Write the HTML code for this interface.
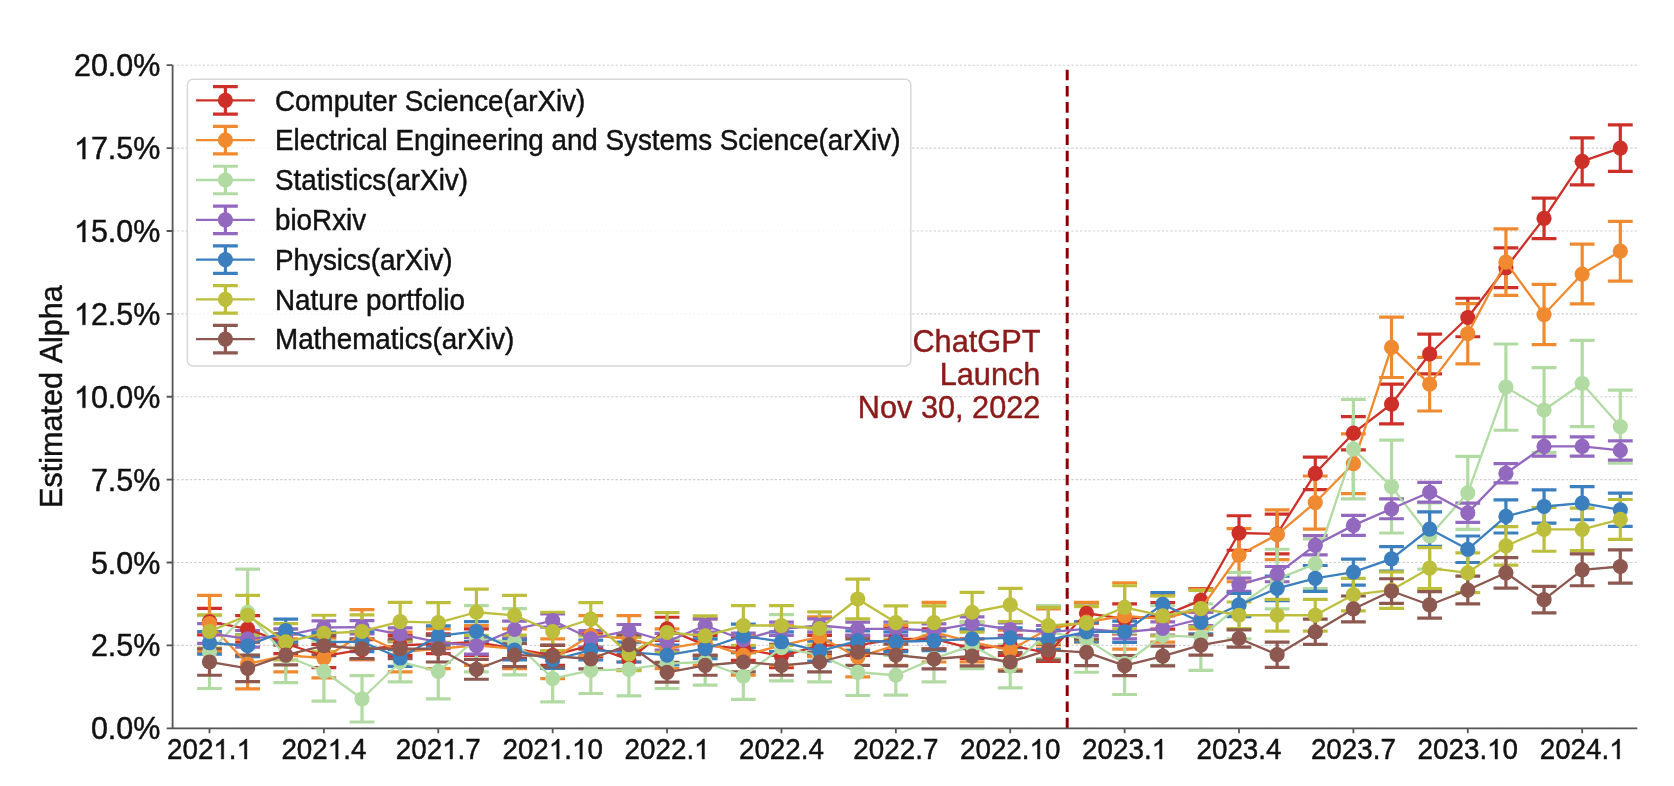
<!DOCTYPE html><html><head><meta charset="utf-8"><style>html,body{margin:0;padding:0;background:#fff;}svg{display:block;filter:blur(0.4px);}text{font-family:"Liberation Sans",sans-serif;font-kerning:none;}.t text,.t path{stroke-width:0.45px;paint-order:stroke;}.t path{vector-effect:non-scaling-stroke;}</style></head><body>
<svg width="1674" height="786" viewBox="0 0 1674 786">
<rect width="1674" height="786" fill="#fff"/>
<path d="M172.6 728.3H1637.3M172.6 645.41H1637.3M172.6 562.52H1637.3M172.6 479.64H1637.3M172.6 396.75H1637.3M172.6 313.86H1637.3M172.6 230.98H1637.3M172.6 148.09H1637.3M172.6 65.2H1637.3" stroke="#cfcfcf" stroke-width="1.1" stroke-dasharray="2.4 1.9" fill="none"/>
<path d="M209.5 608.28V634.8M197.1 608.28H221.9M197.1 634.8H221.9M247.63 615.57V642.09M235.23 615.57H260.03M235.23 642.09H260.03M285.76 633.81V653.7M273.36 633.81H298.16M273.36 653.7H298.16M323.89 644.42V667.62M311.49 644.42H336.29M311.49 667.62H336.29M362.02 639.77V659.67M349.62 639.77H374.42M349.62 659.67H374.42M400.15 635.46V655.36M387.75 635.46H412.55M387.75 655.36H412.55M438.28 633.81V653.7M425.88 633.81H450.68M425.88 653.7H450.68M476.41 628.83V655.36M464.01 628.83H488.81M464.01 655.36H488.81M514.54 638.78V658.67M502.14 638.78H526.94M502.14 658.67H526.94M552.67 645.41V665.3M540.27 645.41H565.07M540.27 665.3H565.07M590.8 633.81V657.01M578.4 633.81H603.2M578.4 657.01H603.2M628.93 650.05V669.95M616.53 650.05H641.33M616.53 669.95H641.33M667.06 617.23V640.44M654.66 617.23H679.46M654.66 640.44H679.46M705.19 635.46V655.36M692.79 635.46H717.59M692.79 655.36H717.59M743.32 637.12V660.33M730.92 637.12H755.72M730.92 660.33H755.72M781.45 644.42V667.62M769.05 644.42H793.85M769.05 667.62H793.85M819.58 635.46V655.36M807.18 635.46H831.98M807.18 655.36H831.98M857.71 635.46V655.36M845.31 635.46H870.11M845.31 655.36H870.11M895.84 627.17V650.38M883.44 627.17H908.24M883.44 650.38H908.24M933.97 628.83V648.73M921.57 628.83H946.37M921.57 648.73H946.37M972.1 638.78V658.67M959.7 638.78H984.5M959.7 658.67H984.5M1010.23 635.46V655.36M997.83 635.46H1022.63M997.83 655.36H1022.63M1048.36 644.75V661.32M1035.96 644.75H1060.76M1035.96 661.32H1060.76M1086.49 603.3V623.2M1074.09 603.3H1098.89M1074.09 623.2H1098.89M1124.62 603.96V633.81M1112.22 603.96H1137.02M1112.22 633.81H1137.02M1162.75 602.64V629.16M1150.35 602.64H1175.15M1150.35 629.16H1175.15M1200.88 588.71V611.92M1188.48 588.71H1213.28M1188.48 611.92H1213.28M1239.01 515.77V550.25M1226.61 515.77H1251.41M1226.61 550.25H1251.41M1277.14 514.11V553.9M1264.74 514.11H1289.54M1264.74 553.9H1289.54M1315.27 457.08V489.58M1302.87 457.08H1327.67M1302.87 489.58H1327.67M1353.4 416.63V449.79M1341 416.63H1365.8M1341 449.79H1365.8M1391.53 384.14V423.93M1379.13 384.14H1403.93M1379.13 423.93H1403.93M1429.66 334.08V373.86M1417.26 334.08H1442.06M1417.26 373.86H1442.06M1467.79 298.27V336.73M1455.39 298.27H1480.19M1455.39 336.73H1480.19M1505.92 247.87V287.66M1493.52 247.87H1518.32M1493.52 287.66H1518.32M1544.05 198.14V238.59M1531.65 198.14H1556.45M1531.65 238.59H1556.45M1582.18 137.79V184.87M1569.78 137.79H1594.58M1569.78 184.87H1594.58M1620.31 124.86V171.28M1607.91 124.86H1632.71M1607.91 171.28H1632.71" stroke="#cd3029" stroke-width="3.2" fill="none"/>
<path d="M209.5 595.34V651.71M197.1 595.34H221.9M197.1 651.71H221.9M247.63 639.11V688.84M235.23 639.11H260.03M235.23 688.84H260.03M285.76 638.78V671.93M273.36 638.78H298.16M273.36 671.93H298.16M323.89 638.12V677.9M311.49 638.12H336.29M311.49 677.9H336.29M362.02 609.6V659.34M349.62 609.6H374.42M349.62 659.34H374.42M400.15 632.15V671.93M387.75 632.15H412.55M387.75 671.93H412.55M438.28 628.83V668.62M425.88 628.83H450.68M425.88 668.62H450.68M476.41 625.52V665.3M464.01 625.52H488.81M464.01 665.3H488.81M514.54 628.83V668.62M502.14 628.83H526.94M502.14 668.62H526.94M552.67 638.78V678.57M540.27 638.78H565.07M540.27 678.57H565.07M590.8 615.57V655.36M578.4 615.57H603.2M578.4 655.36H603.2M628.93 615.57V661.99M616.53 615.57H641.33M616.53 661.99H641.33M667.06 628.83V668.62M654.66 628.83H679.46M654.66 668.62H679.46M705.19 618.89V665.3M692.79 618.89H717.59M692.79 665.3H717.59M743.32 635.46V675.25M730.92 635.46H755.72M730.92 675.25H755.72M781.45 625.52V665.3M769.05 625.52H793.85M769.05 665.3H793.85M819.58 616.9V656.68M807.18 616.9H831.98M807.18 656.68H831.98M857.71 637.12V676.91M845.31 637.12H870.11M845.31 676.91H870.11M895.84 625.52V665.3M883.44 625.52H908.24M883.44 665.3H908.24M933.97 602.31V661.99M921.57 602.31H946.37M921.57 661.99H946.37M972.1 622.2V661.99M959.7 622.2H984.5M959.7 661.99H984.5M1010.23 630.16V669.95M997.83 630.16H1022.63M997.83 669.95H1022.63M1048.36 608.94V648.73M1035.96 608.94H1060.76M1035.96 648.73H1060.76M1086.49 602.31V642.09M1074.09 602.31H1098.89M1074.09 642.09H1098.89M1124.62 582.75V649.06M1112.22 582.75H1137.02M1112.22 649.06H1137.02M1162.75 595.68V642.09M1150.35 595.68H1175.15M1150.35 642.09H1175.15M1200.88 589.04V628.83M1188.48 589.04H1213.28M1188.48 628.83H1213.28M1239.01 528.7V581.75M1226.61 528.7H1251.41M1226.61 581.75H1251.41M1277.14 509.8V559.54M1264.74 509.8H1289.54M1264.74 559.54H1289.54M1315.27 475.98V529.03M1302.87 475.98H1327.67M1302.87 529.03H1327.67M1353.4 433.87V493.56M1341 433.87H1365.8M1341 493.56H1365.8M1391.53 317.17V377.51M1379.13 317.17H1403.93M1379.13 377.51H1403.93M1429.66 357.28V411M1417.26 357.28H1442.06M1417.26 411H1442.06M1467.79 303.57V363.92M1455.39 303.57H1480.19M1455.39 363.92H1480.19M1505.92 228.97V295.28M1493.52 228.97H1518.32M1493.52 295.28H1518.32M1544.05 284.34V344.69M1531.65 284.34H1556.45M1531.65 344.69H1556.45M1582.18 244.22V303.9M1569.78 244.22H1594.58M1569.78 303.9H1594.58M1620.31 221.34V281.03M1607.91 221.34H1632.71M1607.91 281.03H1632.71" stroke="#f08a30" stroke-width="3.2" fill="none"/>
<path d="M209.5 615.57V688.51M197.1 615.57H221.9M197.1 688.51H221.9M247.63 569.15V655.36M235.23 569.15H260.03M235.23 655.36H260.03M285.76 629.5V682.54M273.36 629.5H298.16M273.36 682.54H298.16M323.89 641.43V701.11M311.49 641.43H336.29M311.49 701.11H336.29M362.02 675.58V722M349.62 675.58H374.42M349.62 722H374.42M400.15 642.09V681.88M387.75 642.09H412.55M387.75 681.88H412.55M438.28 643.75V698.79M425.88 643.75H450.68M425.88 698.79H450.68M476.41 605.62V671.93M464.01 605.62H488.81M464.01 671.93H488.81M514.54 608.61V674.92M502.14 608.61H526.94M502.14 674.92H526.94M552.67 655.36V701.78M540.27 655.36H565.07M540.27 701.78H565.07M590.8 647.07V693.49M578.4 647.07H603.2M578.4 693.49H603.2M628.93 642.76V695.81M616.53 642.76H641.33M616.53 695.81H641.33M667.06 638.78V688.51M654.66 638.78H679.46M654.66 688.51H679.46M705.19 638.78V685.2M692.79 638.78H717.59M692.79 685.2H717.59M743.32 653.04V699.45M730.92 653.04H755.72M730.92 699.45H755.72M781.45 614.57V680.89M769.05 614.57H793.85M769.05 680.89H793.85M819.58 628.83V681.88M807.18 628.83H831.98M807.18 681.88H831.98M857.71 649.06V695.48M845.31 649.06H870.11M845.31 695.48H870.11M895.84 655.36V695.14M883.44 655.36H908.24M883.44 695.14H908.24M933.97 635.46V681.88M921.57 635.46H946.37M921.57 681.88H946.37M972.1 622.2V668.62M959.7 622.2H984.5M959.7 668.62H984.5M1010.23 644.75V687.85M997.83 644.75H1022.63M997.83 687.85H1022.63M1048.36 605.62V658.67M1035.96 605.62H1060.76M1035.96 658.67H1060.76M1086.49 605.95V672.27M1074.09 605.95H1098.89M1074.09 672.27H1098.89M1124.62 632.81V694.48M1112.22 632.81H1137.02M1112.22 694.48H1137.02M1162.75 605.62V665.3M1150.35 605.62H1175.15M1150.35 665.3H1175.15M1200.88 603.96V670.28M1188.48 603.96H1213.28M1188.48 670.28H1213.28M1239.01 572.47V638.78M1226.61 572.47H1251.41M1226.61 638.78H1251.41M1277.14 549.26V608.94M1264.74 549.26H1289.54M1264.74 608.94H1289.54M1315.27 538.98V588.71M1302.87 538.98H1327.67M1302.87 588.71H1327.67M1353.4 399.39V498.86M1341 399.39H1365.8M1341 498.86H1365.8M1391.53 440.17V533.01M1379.13 440.17H1403.93M1379.13 533.01H1403.93M1429.66 502.84V569.15M1417.26 502.84H1442.06M1417.26 569.15H1442.06M1467.79 456.42V529.36M1455.39 456.42H1480.19M1455.39 529.36H1480.19M1505.92 344.02V430.23M1493.52 344.02H1518.32M1493.52 430.23H1518.32M1544.05 367.56V452.44M1531.65 367.56H1556.45M1531.65 452.44H1556.45M1582.18 340.37V426.58M1569.78 340.37H1594.58M1569.78 426.58H1594.58M1620.31 390.11V463.05M1607.91 390.11H1632.71M1607.91 463.05H1632.71" stroke="#b2dba3" stroke-width="3.2" fill="none"/>
<path d="M209.5 623.53V643.42M197.1 623.53H221.9M197.1 643.42H221.9M247.63 630.49V647.07M235.23 630.49H260.03M235.23 647.07H260.03M285.76 628.83V642.09M273.36 628.83H298.16M273.36 642.09H298.16M323.89 620.87V634.14M311.49 620.87H336.29M311.49 634.14H336.29M362.02 620.54V633.81M349.62 620.54H374.42M349.62 633.81H374.42M400.15 627.84V641.1M387.75 627.84H412.55M387.75 641.1H412.55M438.28 635.46V648.73M425.88 635.46H450.68M425.88 648.73H450.68M476.41 637.45V654.03M464.01 637.45H488.81M464.01 654.03H488.81M514.54 621.21V637.78M502.14 621.21H526.94M502.14 637.78H526.94M552.67 613.91V627.17M540.27 613.91H565.07M540.27 627.17H565.07M590.8 630.49V647.07M578.4 630.49H603.2M578.4 647.07H603.2M628.93 624.52V636.46M616.53 624.52H641.33M616.53 636.46H641.33M667.06 633.47V650.05M654.66 633.47H679.46M654.66 650.05H679.46M705.19 618.89V632.15M692.79 618.89H717.59M692.79 632.15H717.59M743.32 633.14V646.4M730.92 633.14H755.72M730.92 646.4H755.72M781.45 622.2V635.46M769.05 622.2H793.85M769.05 635.46H793.85M819.58 618.89V632.15M807.18 618.89H831.98M807.18 632.15H831.98M857.71 622.2V635.46M845.31 622.2H870.11M845.31 635.46H870.11M895.84 622.2V635.46M883.44 622.2H908.24M883.44 635.46H908.24M933.97 623.86V637.12M921.57 623.86H946.37M921.57 637.12H946.37M972.1 616.9V630.16M959.7 616.9H984.5M959.7 630.16H984.5M1010.23 622.86V636.13M997.83 622.86H1022.63M997.83 636.13H1022.63M1048.36 625.52V638.78M1035.96 625.52H1060.76M1035.96 638.78H1060.76M1086.49 622.2V635.46M1074.09 622.2H1098.89M1074.09 635.46H1098.89M1124.62 625.52V638.78M1112.22 625.52H1137.02M1112.22 638.78H1137.02M1162.75 621.87V635.13M1150.35 621.87H1175.15M1150.35 635.13H1175.15M1200.88 612.25V625.52M1188.48 612.25H1213.28M1188.48 625.52H1213.28M1239.01 578.1V591.37M1226.61 578.1H1251.41M1226.61 591.37H1251.41M1277.14 566.5V581.75M1264.74 566.5H1289.54M1264.74 581.75H1289.54M1315.27 535.66V554.89M1302.87 535.66H1327.67M1302.87 554.89H1327.67M1353.4 515.44V535.33M1341 515.44H1365.8M1341 535.33H1365.8M1391.53 498.86V518.75M1379.13 498.86H1403.93M1379.13 518.75H1403.93M1429.66 482.28V502.18M1417.26 482.28H1442.06M1417.26 502.18H1442.06M1467.79 503.17V522.4M1455.39 503.17H1480.19M1455.39 522.4H1480.19M1505.92 463.72V482.95M1493.52 463.72H1518.32M1493.52 482.95H1518.32M1544.05 436.86V456.09M1531.65 436.86H1556.45M1531.65 456.09H1556.45M1582.18 436.86V456.09M1569.78 436.86H1594.58M1569.78 456.09H1594.58M1620.31 440.84V460.07M1607.91 440.84H1632.71M1607.91 460.07H1632.71" stroke="#9368bf" stroke-width="3.2" fill="none"/>
<path d="M209.5 631.48V654.03M197.1 631.48H221.9M197.1 654.03H221.9M247.63 634.8V656.68M235.23 634.8H260.03M235.23 656.68H260.03M285.76 619.22V641.76M273.36 619.22H298.16M273.36 641.76H298.16M323.89 632.15V652.04M311.49 632.15H336.29M311.49 652.04H336.29M362.02 631.82V651.71M349.62 631.82H374.42M349.62 651.71H374.42M400.15 649.72V666.3M387.75 649.72H412.55M387.75 666.3H412.55M438.28 625.85V645.74M425.88 625.85H450.68M425.88 645.74H450.68M476.41 621.54V641.43M464.01 621.54H488.81M464.01 641.43H488.81M514.54 640.11V660M502.14 640.11H526.94M502.14 660H526.94M552.67 651.71V668.29M540.27 651.71H565.07M540.27 668.29H565.07M590.8 640.11V660M578.4 640.11H603.2M578.4 660H603.2M628.93 642.09V661.99M616.53 642.09H641.33M616.53 661.99H641.33M667.06 645.08V664.97M654.66 645.08H679.46M654.66 664.97H679.46M705.19 638.78V658.67M692.79 638.78H717.59M692.79 658.67H717.59M743.32 624.19V647.4M730.92 624.19H755.72M730.92 647.4H755.72M781.45 631.82V651.71M769.05 631.82H793.85M769.05 651.71H793.85M819.58 641.1V660.99M807.18 641.1H831.98M807.18 660.99H831.98M857.71 630.82V650.71M845.31 630.82H870.11M845.31 650.71H870.11M895.84 631.82V651.71M883.44 631.82H908.24M883.44 651.71H908.24M933.97 630.82V650.71M921.57 630.82H946.37M921.57 650.71H946.37M972.1 628.83V648.73M959.7 628.83H984.5M959.7 648.73H984.5M1010.23 627.84V647.73M997.83 627.84H1022.63M997.83 647.73H1022.63M1048.36 629.83V649.72M1035.96 629.83H1060.76M1035.96 649.72H1060.76M1086.49 621.87V641.76M1074.09 621.87H1098.89M1074.09 641.76H1098.89M1124.62 621.21V642.43M1112.22 621.21H1137.02M1112.22 642.43H1137.02M1162.75 592.69V615.9M1150.35 592.69H1175.15M1150.35 615.9H1175.15M1200.88 610.6V633.81M1188.48 610.6H1213.28M1188.48 633.81H1213.28M1239.01 593.36V616.56M1226.61 593.36H1251.41M1226.61 616.56H1251.41M1277.14 576.11V600.65M1264.74 576.11H1289.54M1264.74 600.65H1289.54M1315.27 565.5V591.37M1302.87 565.5H1327.67M1302.87 591.37H1327.67M1353.4 559.2V585.07M1341 559.2H1365.8M1341 585.07H1365.8M1391.53 546.61V571.14M1379.13 546.61H1403.93M1379.13 571.14H1403.93M1429.66 511.79V546.27M1417.26 511.79H1442.06M1417.26 546.27H1442.06M1467.79 536V562.52M1455.39 536H1480.19M1455.39 562.52H1480.19M1505.92 499.86V533.01M1493.52 499.86H1518.32M1493.52 533.01H1518.32M1544.05 489.91V523.06M1531.65 489.91H1556.45M1531.65 523.06H1556.45M1582.18 486.59V519.75M1569.78 486.59H1594.58M1569.78 519.75H1594.58M1620.31 493.22V526.38M1607.91 493.22H1632.71M1607.91 526.38H1632.71" stroke="#3b7fbf" stroke-width="3.2" fill="none"/>
<path d="M209.5 614.91V648.06M197.1 614.91H221.9M197.1 648.06H221.9M247.63 595.34V635.13M235.23 595.34H260.03M235.23 635.13H260.03M285.76 623.53V660M273.36 623.53H298.16M273.36 660H298.16M323.89 615.24V651.71M311.49 615.24H336.29M311.49 651.71H336.29M362.02 614.91V648.06M349.62 614.91H374.42M349.62 648.06H374.42M400.15 602.31V640.77M387.75 602.31H412.55M387.75 640.77H412.55M438.28 602.64V642.43M425.88 602.64H450.68M425.88 642.43H450.68M476.41 589.04V635.46M464.01 589.04H488.81M464.01 635.46H488.81M514.54 595.34V635.13M502.14 595.34H526.94M502.14 635.13H526.94M552.67 612.25V650.71M540.27 612.25H565.07M540.27 650.71H565.07M590.8 602.64V635.79M578.4 602.64H603.2M578.4 635.79H603.2M628.93 637.45V670.61M616.53 637.45H641.33M616.53 670.61H641.33M667.06 612.59V652.37M654.66 612.59H679.46M654.66 652.37H679.46M705.19 615.9V655.69M692.79 615.9H717.59M692.79 655.69H717.59M743.32 605.62V645.41M730.92 605.62H755.72M730.92 645.41H755.72M781.45 605.62V645.41M769.05 605.62H793.85M769.05 645.41H793.85M819.58 611.92V645.08M807.18 611.92H831.98M807.18 645.08H831.98M857.71 579.1V618.89M845.31 579.1H870.11M845.31 618.89H870.11M895.84 605.95V639.11M883.44 605.95H908.24M883.44 639.11H908.24M933.97 605.95V639.11M921.57 605.95H946.37M921.57 639.11H946.37M972.1 592.36V632.15M959.7 592.36H984.5M959.7 632.15H984.5M1010.23 588.38V621.54M997.83 588.38H1022.63M997.83 621.54H1022.63M1048.36 607.28V643.75M1035.96 607.28H1060.76M1035.96 643.75H1060.76M1086.49 606.62V639.77M1074.09 606.62H1098.89M1074.09 639.77H1098.89M1124.62 585.73V628.83M1112.22 585.73H1137.02M1112.22 628.83H1137.02M1162.75 596.01V635.79M1150.35 596.01H1175.15M1150.35 635.79H1175.15M1200.88 590.37V626.84M1188.48 590.37H1213.28M1188.48 626.84H1213.28M1239.01 601.98V628.5M1226.61 601.98H1251.41M1226.61 628.5H1251.41M1277.14 599.32V631.15M1264.74 599.32H1289.54M1264.74 631.15H1289.54M1315.27 599.32V631.15M1302.87 599.32H1327.67M1302.87 631.15H1327.67M1353.4 578.43V610.93M1341 578.43H1365.8M1341 610.93H1365.8M1391.53 571.8V608.28M1379.13 571.8H1403.93M1379.13 608.28H1403.93M1429.66 547.6V588.71M1417.26 547.6H1442.06M1417.26 588.71H1442.06M1467.79 552.9V592.69M1455.39 552.9H1480.19M1455.39 592.69H1480.19M1505.92 526.71V565.17M1493.52 526.71H1518.32M1493.52 565.17H1518.32M1544.05 507.48V551.25M1531.65 507.48H1556.45M1531.65 551.25H1556.45M1582.18 508.14V550.58M1569.78 508.14H1594.58M1569.78 550.58H1594.58M1620.31 499.52V539.31M1607.91 499.52H1632.71M1607.91 539.31H1632.71" stroke="#bdbe3c" stroke-width="3.2" fill="none"/>
<path d="M209.5 648.73V675.25M197.1 648.73H221.9M197.1 675.25H221.9M247.63 655.03V681.55M235.23 655.03H260.03M235.23 681.55H260.03M285.76 645.08V664.97M273.36 645.08H298.16M273.36 664.97H298.16M323.89 635.79V655.69M311.49 635.79H336.29M311.49 655.69H336.29M362.02 638.78V658.67M349.62 638.78H374.42M349.62 658.67H374.42M400.15 638.78V658.67M387.75 638.78H412.55M387.75 658.67H412.55M438.28 635.46V661.99M425.88 635.46H450.68M425.88 661.99H450.68M476.41 659.34V679.23M464.01 659.34H488.81M464.01 679.23H488.81M514.54 643.42V666.63M502.14 643.42H526.94M502.14 666.63H526.94M552.67 645.08V666.96M540.27 645.08H565.07M540.27 666.96H565.07M590.8 649.06V668.95M578.4 649.06H603.2M578.4 668.95H603.2M628.93 634.8V654.69M616.53 634.8H641.33M616.53 654.69H641.33M667.06 662.32V682.21M654.66 662.32H679.46M654.66 682.21H679.46M705.19 655.36V675.25M692.79 655.36H717.59M692.79 675.25H717.59M743.32 652.04V671.93M730.92 652.04H755.72M730.92 671.93H755.72M781.45 655.36V675.25M769.05 655.36H793.85M769.05 675.25H793.85M819.58 652.04V671.93M807.18 652.04H831.98M807.18 671.93H831.98M857.71 638.78V665.3M845.31 638.78H870.11M845.31 665.3H870.11M895.84 644.08V665.97M883.44 644.08H908.24M883.44 665.97H908.24M933.97 649.06V668.95M921.57 649.06H946.37M921.57 668.95H946.37M972.1 646.07V665.97M959.7 646.07H984.5M959.7 665.97H984.5M1010.23 652.7V671.27M997.83 652.7H1022.63M997.83 671.27H1022.63M1048.36 640.11V660M1035.96 640.11H1060.76M1035.96 660H1060.76M1086.49 639.11V665.64M1074.09 639.11H1098.89M1074.09 665.64H1098.89M1124.62 655.69V675.58M1112.22 655.69H1137.02M1112.22 675.58H1137.02M1162.75 646.07V665.97M1150.35 646.07H1175.15M1150.35 665.97H1175.15M1200.88 635.13V655.03M1188.48 635.13H1213.28M1188.48 655.03H1213.28M1239.01 629.83V647.07M1226.61 629.83H1251.41M1226.61 647.07H1251.41M1277.14 642.09V667.29M1264.74 642.09H1289.54M1264.74 667.29H1289.54M1315.27 619.22V644.42M1302.87 619.22H1327.67M1302.87 644.42H1327.67M1353.4 596.01V621.87M1341 596.01H1365.8M1341 621.87H1365.8M1391.53 578.77V603.3M1379.13 578.77H1403.93M1379.13 603.3H1403.93M1429.66 591.7V618.22M1417.26 591.7H1442.06M1417.26 618.22H1442.06M1467.79 576.11V603.96M1455.39 576.11H1480.19M1455.39 603.96H1480.19M1505.92 557.55V588.05M1493.52 557.55H1518.32M1493.52 588.05H1518.32M1544.05 586.39V612.92M1531.65 586.39H1556.45M1531.65 612.92H1556.45M1582.18 553.9V585.73M1569.78 553.9H1594.58M1569.78 585.73H1594.58M1620.31 549.92V583.08M1607.91 549.92H1632.71M1607.91 583.08H1632.71" stroke="#8c5850" stroke-width="3.2" fill="none"/>
<line x1="1067.2" y1="728.3" x2="1067.2" y2="65.2" stroke="#8b0000" stroke-width="3" stroke-dasharray="10.6 5.6"/>
<polyline points="209.5,621.54 247.63,628.83 285.76,643.75 323.89,656.02 362.02,649.72 400.15,645.41 438.28,643.75 476.41,642.09 514.54,648.73 552.67,655.36 590.8,645.41 628.93,660 667.06,628.83 705.19,645.41 743.32,648.73 781.45,656.02 819.58,645.41 857.71,645.41 895.84,638.78 933.97,638.78 972.1,648.73 1010.23,645.41 1048.36,653.04 1086.49,613.25 1124.62,618.89 1162.75,615.9 1200.88,600.32 1239.01,533.01 1277.14,534.01 1315.27,473.33 1353.4,433.21 1391.53,404.03 1429.66,353.97 1467.79,317.5 1505.92,267.76 1544.05,218.36 1582.18,161.33 1620.31,148.07" stroke="#cd3029" stroke-width="2.3" fill="none" stroke-linejoin="round"/>
<g fill="#cd3029"><circle cx="209.5" cy="621.54" r="7.6"/><circle cx="247.63" cy="628.83" r="7.6"/><circle cx="285.76" cy="643.75" r="7.6"/><circle cx="323.89" cy="656.02" r="7.6"/><circle cx="362.02" cy="649.72" r="7.6"/><circle cx="400.15" cy="645.41" r="7.6"/><circle cx="438.28" cy="643.75" r="7.6"/><circle cx="476.41" cy="642.09" r="7.6"/><circle cx="514.54" cy="648.73" r="7.6"/><circle cx="552.67" cy="655.36" r="7.6"/><circle cx="590.8" cy="645.41" r="7.6"/><circle cx="628.93" cy="660" r="7.6"/><circle cx="667.06" cy="628.83" r="7.6"/><circle cx="705.19" cy="645.41" r="7.6"/><circle cx="743.32" cy="648.73" r="7.6"/><circle cx="781.45" cy="656.02" r="7.6"/><circle cx="819.58" cy="645.41" r="7.6"/><circle cx="857.71" cy="645.41" r="7.6"/><circle cx="895.84" cy="638.78" r="7.6"/><circle cx="933.97" cy="638.78" r="7.6"/><circle cx="972.1" cy="648.73" r="7.6"/><circle cx="1010.23" cy="645.41" r="7.6"/><circle cx="1048.36" cy="653.04" r="7.6"/><circle cx="1086.49" cy="613.25" r="7.6"/><circle cx="1124.62" cy="618.89" r="7.6"/><circle cx="1162.75" cy="615.9" r="7.6"/><circle cx="1200.88" cy="600.32" r="7.6"/><circle cx="1239.01" cy="533.01" r="7.6"/><circle cx="1277.14" cy="534.01" r="7.6"/><circle cx="1315.27" cy="473.33" r="7.6"/><circle cx="1353.4" cy="433.21" r="7.6"/><circle cx="1391.53" cy="404.03" r="7.6"/><circle cx="1429.66" cy="353.97" r="7.6"/><circle cx="1467.79" cy="317.5" r="7.6"/><circle cx="1505.92" cy="267.76" r="7.6"/><circle cx="1544.05" cy="218.36" r="7.6"/><circle cx="1582.18" cy="161.33" r="7.6"/><circle cx="1620.31" cy="148.07" r="7.6"/></g>
<polyline points="209.5,623.53 247.63,663.98 285.76,655.36 323.89,658.01 362.02,634.47 400.15,652.04 438.28,648.73 476.41,645.41 514.54,648.73 552.67,658.67 590.8,635.46 628.93,638.78 667.06,648.73 705.19,642.09 743.32,655.36 781.45,645.41 819.58,636.79 857.71,657.01 895.84,645.41 933.97,632.15 972.1,642.09 1010.23,650.05 1048.36,628.83 1086.49,622.2 1124.62,615.9 1162.75,618.89 1200.88,608.94 1239.01,555.23 1277.14,534.67 1315.27,502.51 1353.4,463.72 1391.53,347.34 1429.66,384.14 1467.79,333.74 1505.92,262.13 1544.05,314.51 1582.18,274.06 1620.31,251.19" stroke="#f08a30" stroke-width="2.3" fill="none" stroke-linejoin="round"/>
<g fill="#f08a30"><circle cx="209.5" cy="623.53" r="7.6"/><circle cx="247.63" cy="663.98" r="7.6"/><circle cx="285.76" cy="655.36" r="7.6"/><circle cx="323.89" cy="658.01" r="7.6"/><circle cx="362.02" cy="634.47" r="7.6"/><circle cx="400.15" cy="652.04" r="7.6"/><circle cx="438.28" cy="648.73" r="7.6"/><circle cx="476.41" cy="645.41" r="7.6"/><circle cx="514.54" cy="648.73" r="7.6"/><circle cx="552.67" cy="658.67" r="7.6"/><circle cx="590.8" cy="635.46" r="7.6"/><circle cx="628.93" cy="638.78" r="7.6"/><circle cx="667.06" cy="648.73" r="7.6"/><circle cx="705.19" cy="642.09" r="7.6"/><circle cx="743.32" cy="655.36" r="7.6"/><circle cx="781.45" cy="645.41" r="7.6"/><circle cx="819.58" cy="636.79" r="7.6"/><circle cx="857.71" cy="657.01" r="7.6"/><circle cx="895.84" cy="645.41" r="7.6"/><circle cx="933.97" cy="632.15" r="7.6"/><circle cx="972.1" cy="642.09" r="7.6"/><circle cx="1010.23" cy="650.05" r="7.6"/><circle cx="1048.36" cy="628.83" r="7.6"/><circle cx="1086.49" cy="622.2" r="7.6"/><circle cx="1124.62" cy="615.9" r="7.6"/><circle cx="1162.75" cy="618.89" r="7.6"/><circle cx="1200.88" cy="608.94" r="7.6"/><circle cx="1239.01" cy="555.23" r="7.6"/><circle cx="1277.14" cy="534.67" r="7.6"/><circle cx="1315.27" cy="502.51" r="7.6"/><circle cx="1353.4" cy="463.72" r="7.6"/><circle cx="1391.53" cy="347.34" r="7.6"/><circle cx="1429.66" cy="384.14" r="7.6"/><circle cx="1467.79" cy="333.74" r="7.6"/><circle cx="1505.92" cy="262.13" r="7.6"/><circle cx="1544.05" cy="314.51" r="7.6"/><circle cx="1582.18" cy="274.06" r="7.6"/><circle cx="1620.31" cy="251.19" r="7.6"/></g>
<polyline points="209.5,652.04 247.63,612.25 285.76,656.02 323.89,671.27 362.02,698.79 400.15,661.99 438.28,671.27 476.41,638.78 514.54,641.76 552.67,678.57 590.8,670.28 628.93,669.28 667.06,663.65 705.19,661.99 743.32,676.25 781.45,647.73 819.58,655.36 857.71,672.27 895.84,675.25 933.97,658.67 972.1,645.41 1010.23,666.3 1048.36,632.15 1086.49,639.11 1124.62,663.65 1162.75,635.46 1200.88,637.12 1239.01,605.62 1277.14,579.1 1315.27,563.85 1353.4,449.13 1391.53,486.59 1429.66,536 1467.79,492.89 1505.92,387.12 1544.05,410 1582.18,383.48 1620.31,426.58" stroke="#b2dba3" stroke-width="2.3" fill="none" stroke-linejoin="round"/>
<g fill="#b2dba3"><circle cx="209.5" cy="652.04" r="7.6"/><circle cx="247.63" cy="612.25" r="7.6"/><circle cx="285.76" cy="656.02" r="7.6"/><circle cx="323.89" cy="671.27" r="7.6"/><circle cx="362.02" cy="698.79" r="7.6"/><circle cx="400.15" cy="661.99" r="7.6"/><circle cx="438.28" cy="671.27" r="7.6"/><circle cx="476.41" cy="638.78" r="7.6"/><circle cx="514.54" cy="641.76" r="7.6"/><circle cx="552.67" cy="678.57" r="7.6"/><circle cx="590.8" cy="670.28" r="7.6"/><circle cx="628.93" cy="669.28" r="7.6"/><circle cx="667.06" cy="663.65" r="7.6"/><circle cx="705.19" cy="661.99" r="7.6"/><circle cx="743.32" cy="676.25" r="7.6"/><circle cx="781.45" cy="647.73" r="7.6"/><circle cx="819.58" cy="655.36" r="7.6"/><circle cx="857.71" cy="672.27" r="7.6"/><circle cx="895.84" cy="675.25" r="7.6"/><circle cx="933.97" cy="658.67" r="7.6"/><circle cx="972.1" cy="645.41" r="7.6"/><circle cx="1010.23" cy="666.3" r="7.6"/><circle cx="1048.36" cy="632.15" r="7.6"/><circle cx="1086.49" cy="639.11" r="7.6"/><circle cx="1124.62" cy="663.65" r="7.6"/><circle cx="1162.75" cy="635.46" r="7.6"/><circle cx="1200.88" cy="637.12" r="7.6"/><circle cx="1239.01" cy="605.62" r="7.6"/><circle cx="1277.14" cy="579.1" r="7.6"/><circle cx="1315.27" cy="563.85" r="7.6"/><circle cx="1353.4" cy="449.13" r="7.6"/><circle cx="1391.53" cy="486.59" r="7.6"/><circle cx="1429.66" cy="536" r="7.6"/><circle cx="1467.79" cy="492.89" r="7.6"/><circle cx="1505.92" cy="387.12" r="7.6"/><circle cx="1544.05" cy="410" r="7.6"/><circle cx="1582.18" cy="383.48" r="7.6"/><circle cx="1620.31" cy="426.58" r="7.6"/></g>
<polyline points="209.5,633.47 247.63,638.78 285.76,635.46 323.89,627.51 362.02,627.17 400.15,634.47 438.28,642.09 476.41,645.74 514.54,629.5 552.67,620.54 590.8,638.78 628.93,630.49 667.06,641.76 705.19,625.52 743.32,639.77 781.45,628.83 819.58,625.52 857.71,628.83 895.84,628.83 933.97,630.49 972.1,623.53 1010.23,629.5 1048.36,632.15 1086.49,628.83 1124.62,632.15 1162.75,628.5 1200.88,618.89 1239.01,584.73 1277.14,574.12 1315.27,545.28 1353.4,525.39 1391.53,508.81 1429.66,492.23 1467.79,512.79 1505.92,473.33 1544.05,446.47 1582.18,446.47 1620.31,450.45" stroke="#9368bf" stroke-width="2.3" fill="none" stroke-linejoin="round"/>
<g fill="#9368bf"><circle cx="209.5" cy="633.47" r="7.6"/><circle cx="247.63" cy="638.78" r="7.6"/><circle cx="285.76" cy="635.46" r="7.6"/><circle cx="323.89" cy="627.51" r="7.6"/><circle cx="362.02" cy="627.17" r="7.6"/><circle cx="400.15" cy="634.47" r="7.6"/><circle cx="438.28" cy="642.09" r="7.6"/><circle cx="476.41" cy="645.74" r="7.6"/><circle cx="514.54" cy="629.5" r="7.6"/><circle cx="552.67" cy="620.54" r="7.6"/><circle cx="590.8" cy="638.78" r="7.6"/><circle cx="628.93" cy="630.49" r="7.6"/><circle cx="667.06" cy="641.76" r="7.6"/><circle cx="705.19" cy="625.52" r="7.6"/><circle cx="743.32" cy="639.77" r="7.6"/><circle cx="781.45" cy="628.83" r="7.6"/><circle cx="819.58" cy="625.52" r="7.6"/><circle cx="857.71" cy="628.83" r="7.6"/><circle cx="895.84" cy="628.83" r="7.6"/><circle cx="933.97" cy="630.49" r="7.6"/><circle cx="972.1" cy="623.53" r="7.6"/><circle cx="1010.23" cy="629.5" r="7.6"/><circle cx="1048.36" cy="632.15" r="7.6"/><circle cx="1086.49" cy="628.83" r="7.6"/><circle cx="1124.62" cy="632.15" r="7.6"/><circle cx="1162.75" cy="628.5" r="7.6"/><circle cx="1200.88" cy="618.89" r="7.6"/><circle cx="1239.01" cy="584.73" r="7.6"/><circle cx="1277.14" cy="574.12" r="7.6"/><circle cx="1315.27" cy="545.28" r="7.6"/><circle cx="1353.4" cy="525.39" r="7.6"/><circle cx="1391.53" cy="508.81" r="7.6"/><circle cx="1429.66" cy="492.23" r="7.6"/><circle cx="1467.79" cy="512.79" r="7.6"/><circle cx="1505.92" cy="473.33" r="7.6"/><circle cx="1544.05" cy="446.47" r="7.6"/><circle cx="1582.18" cy="446.47" r="7.6"/><circle cx="1620.31" cy="450.45" r="7.6"/></g>
<polyline points="209.5,642.76 247.63,645.74 285.76,630.49 323.89,642.09 362.02,641.76 400.15,658.01 438.28,635.79 476.41,631.48 514.54,650.05 552.67,660 590.8,650.05 628.93,652.04 667.06,655.03 705.19,648.73 743.32,635.79 781.45,641.76 819.58,651.05 857.71,640.77 895.84,641.76 933.97,640.77 972.1,638.78 1010.23,637.78 1048.36,639.77 1086.49,631.82 1124.62,631.82 1162.75,604.3 1200.88,622.2 1239.01,604.96 1277.14,588.38 1315.27,578.43 1353.4,572.14 1391.53,558.87 1429.66,529.03 1467.79,549.26 1505.92,516.43 1544.05,506.49 1582.18,503.17 1620.31,509.8" stroke="#3b7fbf" stroke-width="2.3" fill="none" stroke-linejoin="round"/>
<g fill="#3b7fbf"><circle cx="209.5" cy="642.76" r="7.6"/><circle cx="247.63" cy="645.74" r="7.6"/><circle cx="285.76" cy="630.49" r="7.6"/><circle cx="323.89" cy="642.09" r="7.6"/><circle cx="362.02" cy="641.76" r="7.6"/><circle cx="400.15" cy="658.01" r="7.6"/><circle cx="438.28" cy="635.79" r="7.6"/><circle cx="476.41" cy="631.48" r="7.6"/><circle cx="514.54" cy="650.05" r="7.6"/><circle cx="552.67" cy="660" r="7.6"/><circle cx="590.8" cy="650.05" r="7.6"/><circle cx="628.93" cy="652.04" r="7.6"/><circle cx="667.06" cy="655.03" r="7.6"/><circle cx="705.19" cy="648.73" r="7.6"/><circle cx="743.32" cy="635.79" r="7.6"/><circle cx="781.45" cy="641.76" r="7.6"/><circle cx="819.58" cy="651.05" r="7.6"/><circle cx="857.71" cy="640.77" r="7.6"/><circle cx="895.84" cy="641.76" r="7.6"/><circle cx="933.97" cy="640.77" r="7.6"/><circle cx="972.1" cy="638.78" r="7.6"/><circle cx="1010.23" cy="637.78" r="7.6"/><circle cx="1048.36" cy="639.77" r="7.6"/><circle cx="1086.49" cy="631.82" r="7.6"/><circle cx="1124.62" cy="631.82" r="7.6"/><circle cx="1162.75" cy="604.3" r="7.6"/><circle cx="1200.88" cy="622.2" r="7.6"/><circle cx="1239.01" cy="604.96" r="7.6"/><circle cx="1277.14" cy="588.38" r="7.6"/><circle cx="1315.27" cy="578.43" r="7.6"/><circle cx="1353.4" cy="572.14" r="7.6"/><circle cx="1391.53" cy="558.87" r="7.6"/><circle cx="1429.66" cy="529.03" r="7.6"/><circle cx="1467.79" cy="549.26" r="7.6"/><circle cx="1505.92" cy="516.43" r="7.6"/><circle cx="1544.05" cy="506.49" r="7.6"/><circle cx="1582.18" cy="503.17" r="7.6"/><circle cx="1620.31" cy="509.8" r="7.6"/></g>
<polyline points="209.5,631.48 247.63,615.24 285.76,641.76 323.89,633.47 362.02,631.48 400.15,621.54 438.28,622.53 476.41,612.25 514.54,615.24 552.67,631.48 590.8,619.22 628.93,654.03 667.06,632.48 705.19,635.79 743.32,625.52 781.45,625.52 819.58,628.5 857.71,598.99 895.84,622.53 933.97,622.53 972.1,612.25 1010.23,604.96 1048.36,625.52 1086.49,623.2 1124.62,607.28 1162.75,615.9 1200.88,608.61 1239.01,615.24 1277.14,615.24 1315.27,615.24 1353.4,594.68 1391.53,590.04 1429.66,568.16 1467.79,572.8 1505.92,545.94 1544.05,529.36 1582.18,529.36 1620.31,519.42" stroke="#bdbe3c" stroke-width="2.3" fill="none" stroke-linejoin="round"/>
<g fill="#bdbe3c"><circle cx="209.5" cy="631.48" r="7.6"/><circle cx="247.63" cy="615.24" r="7.6"/><circle cx="285.76" cy="641.76" r="7.6"/><circle cx="323.89" cy="633.47" r="7.6"/><circle cx="362.02" cy="631.48" r="7.6"/><circle cx="400.15" cy="621.54" r="7.6"/><circle cx="438.28" cy="622.53" r="7.6"/><circle cx="476.41" cy="612.25" r="7.6"/><circle cx="514.54" cy="615.24" r="7.6"/><circle cx="552.67" cy="631.48" r="7.6"/><circle cx="590.8" cy="619.22" r="7.6"/><circle cx="628.93" cy="654.03" r="7.6"/><circle cx="667.06" cy="632.48" r="7.6"/><circle cx="705.19" cy="635.79" r="7.6"/><circle cx="743.32" cy="625.52" r="7.6"/><circle cx="781.45" cy="625.52" r="7.6"/><circle cx="819.58" cy="628.5" r="7.6"/><circle cx="857.71" cy="598.99" r="7.6"/><circle cx="895.84" cy="622.53" r="7.6"/><circle cx="933.97" cy="622.53" r="7.6"/><circle cx="972.1" cy="612.25" r="7.6"/><circle cx="1010.23" cy="604.96" r="7.6"/><circle cx="1048.36" cy="625.52" r="7.6"/><circle cx="1086.49" cy="623.2" r="7.6"/><circle cx="1124.62" cy="607.28" r="7.6"/><circle cx="1162.75" cy="615.9" r="7.6"/><circle cx="1200.88" cy="608.61" r="7.6"/><circle cx="1239.01" cy="615.24" r="7.6"/><circle cx="1277.14" cy="615.24" r="7.6"/><circle cx="1315.27" cy="615.24" r="7.6"/><circle cx="1353.4" cy="594.68" r="7.6"/><circle cx="1391.53" cy="590.04" r="7.6"/><circle cx="1429.66" cy="568.16" r="7.6"/><circle cx="1467.79" cy="572.8" r="7.6"/><circle cx="1505.92" cy="545.94" r="7.6"/><circle cx="1544.05" cy="529.36" r="7.6"/><circle cx="1582.18" cy="529.36" r="7.6"/><circle cx="1620.31" cy="519.42" r="7.6"/></g>
<polyline points="209.5,661.99 247.63,668.29 285.76,655.03 323.89,645.74 362.02,648.73 400.15,648.73 438.28,648.73 476.41,669.28 514.54,655.03 552.67,656.02 590.8,659 628.93,644.75 667.06,672.27 705.19,665.3 743.32,661.99 781.45,665.3 819.58,661.99 857.71,652.04 895.84,655.03 933.97,659 972.1,656.02 1010.23,661.99 1048.36,650.05 1086.49,652.37 1124.62,665.64 1162.75,656.02 1200.88,645.08 1239.01,638.45 1277.14,654.69 1315.27,631.82 1353.4,608.94 1391.53,591.03 1429.66,604.96 1467.79,590.04 1505.92,572.8 1544.05,599.65 1582.18,569.81 1620.31,566.5" stroke="#8c5850" stroke-width="2.3" fill="none" stroke-linejoin="round"/>
<g fill="#8c5850"><circle cx="209.5" cy="661.99" r="7.6"/><circle cx="247.63" cy="668.29" r="7.6"/><circle cx="285.76" cy="655.03" r="7.6"/><circle cx="323.89" cy="645.74" r="7.6"/><circle cx="362.02" cy="648.73" r="7.6"/><circle cx="400.15" cy="648.73" r="7.6"/><circle cx="438.28" cy="648.73" r="7.6"/><circle cx="476.41" cy="669.28" r="7.6"/><circle cx="514.54" cy="655.03" r="7.6"/><circle cx="552.67" cy="656.02" r="7.6"/><circle cx="590.8" cy="659" r="7.6"/><circle cx="628.93" cy="644.75" r="7.6"/><circle cx="667.06" cy="672.27" r="7.6"/><circle cx="705.19" cy="665.3" r="7.6"/><circle cx="743.32" cy="661.99" r="7.6"/><circle cx="781.45" cy="665.3" r="7.6"/><circle cx="819.58" cy="661.99" r="7.6"/><circle cx="857.71" cy="652.04" r="7.6"/><circle cx="895.84" cy="655.03" r="7.6"/><circle cx="933.97" cy="659" r="7.6"/><circle cx="972.1" cy="656.02" r="7.6"/><circle cx="1010.23" cy="661.99" r="7.6"/><circle cx="1048.36" cy="650.05" r="7.6"/><circle cx="1086.49" cy="652.37" r="7.6"/><circle cx="1124.62" cy="665.64" r="7.6"/><circle cx="1162.75" cy="656.02" r="7.6"/><circle cx="1200.88" cy="645.08" r="7.6"/><circle cx="1239.01" cy="638.45" r="7.6"/><circle cx="1277.14" cy="654.69" r="7.6"/><circle cx="1315.27" cy="631.82" r="7.6"/><circle cx="1353.4" cy="608.94" r="7.6"/><circle cx="1391.53" cy="591.03" r="7.6"/><circle cx="1429.66" cy="604.96" r="7.6"/><circle cx="1467.79" cy="590.04" r="7.6"/><circle cx="1505.92" cy="572.8" r="7.6"/><circle cx="1544.05" cy="599.65" r="7.6"/><circle cx="1582.18" cy="569.81" r="7.6"/><circle cx="1620.31" cy="566.5" r="7.6"/></g>
<path d="M172.6 65.2V728.3H1637.3" stroke="#555" stroke-width="1.8" fill="none"/>
<path d="M166.6 728.3H172.6M166.6 645.41H172.6M166.6 562.52H172.6M166.6 479.64H172.6M166.6 396.75H172.6M166.6 313.86H172.6M166.6 230.98H172.6M166.6 148.09H172.6M166.6 65.2H172.6M209.5 728.3V733.3M323.89 728.3V733.3M438.28 728.3V733.3M552.67 728.3V733.3M667.06 728.3V733.3M781.45 728.3V733.3M895.84 728.3V733.3M1010.23 728.3V733.3M1124.62 728.3V733.3M1239.01 728.3V733.3M1353.4 728.3V733.3M1467.79 728.3V733.3M1582.18 728.3V733.3" stroke="#555" stroke-width="1.8" fill="none"/>
<g class="t" fill="#111" stroke="#111"><g transform="translate(160.4 739.3) scale(1 1.041)"><text x="-69.52 -52.56 -44.08 -27.12" y="0" font-size="30.5">0.0%</text></g><g transform="translate(160.4 656.41) scale(1 1.041)"><text x="-69.52 -52.56 -44.08 -27.12" y="0" font-size="30.5">2.5%</text></g><g transform="translate(160.4 573.52) scale(1 1.041)"><text x="-69.52 -52.56 -44.08 -27.12" y="0" font-size="30.5">5.0%</text></g><g transform="translate(160.4 490.64) scale(1 1.041)"><text x="-69.52 -52.56 -44.08 -27.12" y="0" font-size="30.5">7.5%</text></g><g transform="translate(160.4 407.75) scale(1 1.041)"><text x="-69.52 -52.56 -44.08 -27.12" y="0" font-size="30.5">0.0%</text><path transform="translate(-86.48 0) scale(0.01489 -0.01431)" d="M763 0H583V1147Q518 1085 412 1023Q307 961 223 930V1104Q374 1175 487 1276Q600 1377 647 1472H763Z"/></g><g transform="translate(160.4 324.86) scale(1 1.041)"><text x="-69.52 -52.56 -44.08 -27.12" y="0" font-size="30.5">2.5%</text><path transform="translate(-86.48 0) scale(0.01489 -0.01431)" d="M763 0H583V1147Q518 1085 412 1023Q307 961 223 930V1104Q374 1175 487 1276Q600 1377 647 1472H763Z"/></g><g transform="translate(160.4 241.98) scale(1 1.041)"><text x="-69.52 -52.56 -44.08 -27.12" y="0" font-size="30.5">5.0%</text><path transform="translate(-86.48 0) scale(0.01489 -0.01431)" d="M763 0H583V1147Q518 1085 412 1023Q307 961 223 930V1104Q374 1175 487 1276Q600 1377 647 1472H763Z"/></g><g transform="translate(160.4 159.09) scale(1 1.041)"><text x="-69.52 -52.56 -44.08 -27.12" y="0" font-size="30.5">7.5%</text><path transform="translate(-86.48 0) scale(0.01489 -0.01431)" d="M763 0H583V1147Q518 1085 412 1023Q307 961 223 930V1104Q374 1175 487 1276Q600 1377 647 1472H763Z"/></g><g transform="translate(160.4 76.2) scale(1 1.041)"><text x="-86.48 -69.52 -52.56 -44.08 -27.12" y="0" font-size="30.5">20.0%</text></g><g transform="translate(209.5 759) scale(1 1.041)"><text x="-42.51 -27.05 -11.59 19.33" y="0" font-size="27.8">202.</text><path transform="translate(3.87 0) scale(0.01357 -0.01304)" d="M763 0H583V1147Q518 1085 412 1023Q307 961 223 930V1104Q374 1175 487 1276Q600 1377 647 1472H763Z"/><path transform="translate(27.05 0) scale(0.01357 -0.01304)" d="M763 0H583V1147Q518 1085 412 1023Q307 961 223 930V1104Q374 1175 487 1276Q600 1377 647 1472H763Z"/></g><g transform="translate(323.89 759) scale(1 1.041)"><text x="-42.51 -27.05 -11.59 19.33 27.05" y="0" font-size="27.8">202.4</text><path transform="translate(3.87 0) scale(0.01357 -0.01304)" d="M763 0H583V1147Q518 1085 412 1023Q307 961 223 930V1104Q374 1175 487 1276Q600 1377 647 1472H763Z"/></g><g transform="translate(438.28 759) scale(1 1.041)"><text x="-42.51 -27.05 -11.59 19.33 27.05" y="0" font-size="27.8">202.7</text><path transform="translate(3.87 0) scale(0.01357 -0.01304)" d="M763 0H583V1147Q518 1085 412 1023Q307 961 223 930V1104Q374 1175 487 1276Q600 1377 647 1472H763Z"/></g><g transform="translate(552.67 759) scale(1 1.041)"><text x="-50.24 -34.78 -19.32 11.6 34.78" y="0" font-size="27.8">202.0</text><path transform="translate(-3.86 0) scale(0.01357 -0.01304)" d="M763 0H583V1147Q518 1085 412 1023Q307 961 223 930V1104Q374 1175 487 1276Q600 1377 647 1472H763Z"/><path transform="translate(19.32 0) scale(0.01357 -0.01304)" d="M763 0H583V1147Q518 1085 412 1023Q307 961 223 930V1104Q374 1175 487 1276Q600 1377 647 1472H763Z"/></g><g transform="translate(667.06 759) scale(1 1.041)"><text x="-42.51 -27.05 -11.59 3.87 19.33" y="0" font-size="27.8">2022.</text><path transform="translate(27.05 0) scale(0.01357 -0.01304)" d="M763 0H583V1147Q518 1085 412 1023Q307 961 223 930V1104Q374 1175 487 1276Q600 1377 647 1472H763Z"/></g><g transform="translate(781.45 759) scale(1 1.041)"><text x="-42.51 -27.05 -11.59 3.87 19.33 27.05" y="0" font-size="27.8">2022.4</text></g><g transform="translate(895.84 759) scale(1 1.041)"><text x="-42.51 -27.05 -11.59 3.87 19.33 27.05" y="0" font-size="27.8">2022.7</text></g><g transform="translate(1010.23 759) scale(1 1.041)"><text x="-50.24 -34.78 -19.32 -3.86 11.6 34.78" y="0" font-size="27.8">2022.0</text><path transform="translate(19.32 0) scale(0.01357 -0.01304)" d="M763 0H583V1147Q518 1085 412 1023Q307 961 223 930V1104Q374 1175 487 1276Q600 1377 647 1472H763Z"/></g><g transform="translate(1124.62 759) scale(1 1.041)"><text x="-42.51 -27.05 -11.59 3.87 19.33" y="0" font-size="27.8">2023.</text><path transform="translate(27.05 0) scale(0.01357 -0.01304)" d="M763 0H583V1147Q518 1085 412 1023Q307 961 223 930V1104Q374 1175 487 1276Q600 1377 647 1472H763Z"/></g><g transform="translate(1239.01 759) scale(1 1.041)"><text x="-42.51 -27.05 -11.59 3.87 19.33 27.05" y="0" font-size="27.8">2023.4</text></g><g transform="translate(1353.4 759) scale(1 1.041)"><text x="-42.51 -27.05 -11.59 3.87 19.33 27.05" y="0" font-size="27.8">2023.7</text></g><g transform="translate(1467.79 759) scale(1 1.041)"><text x="-50.24 -34.78 -19.32 -3.86 11.6 34.78" y="0" font-size="27.8">2023.0</text><path transform="translate(19.32 0) scale(0.01357 -0.01304)" d="M763 0H583V1147Q518 1085 412 1023Q307 961 223 930V1104Q374 1175 487 1276Q600 1377 647 1472H763Z"/></g><g transform="translate(1582.18 759) scale(1 1.041)"><text x="-42.51 -27.05 -11.59 3.87 19.33" y="0" font-size="27.8">2024.</text><path transform="translate(27.05 0) scale(0.01357 -0.01304)" d="M763 0H583V1147Q518 1085 412 1023Q307 961 223 930V1104Q374 1175 487 1276Q600 1377 647 1472H763Z"/></g></g>
<g class="t" fill="#111" stroke="#111"><text transform="translate(61.9 396.5) rotate(-90)" text-anchor="middle" font-size="30.6">Estimated Alpha</text></g>
<g class="t" fill="#8b1a1a" stroke="#8b1a1a"><g transform="translate(1040.4 352.3) scale(1 1.041)"><text x="-127.96 -105.79 -88.71 -71.64 -63.11 -39.23 -18.75" y="0" font-size="30.7">ChatGPT</text></g><g transform="translate(1040.4 384.8) scale(1 1.041)"><text x="-100.72 -83.65 -66.57 -49.5 -32.42 -17.07" y="0" font-size="30.7">Launch</text></g><g transform="translate(1040.4 417.6) scale(1 1.041)"><text x="-182.63 -160.46 -143.38 -128.03 -119.5 -102.43 -85.35 -76.82 -68.3 -51.22 -34.15 -17.07" y="0" font-size="30.7">Nov 30, 2022</text></g></g>
<rect x="187.4" y="79.2" width="723.4" height="286.8" rx="5.5" ry="5.5" fill="#fff" fill-opacity="0.8" stroke="#d8d8d8" stroke-width="1.5"/>
<path d="M225.4 86.65V114.15M213 86.65H237.8M213 114.15H237.8" stroke="#cd3029" stroke-width="3.2" fill="none"/><path d="M196 100.4H254.8" stroke="#cd3029" stroke-width="2.3" fill="none"/>
<circle cx="225.4" cy="100.4" r="7.6" fill="#cd3029"/>
<path d="M225.4 126.45V153.95M213 126.45H237.8M213 153.95H237.8" stroke="#f08a30" stroke-width="3.2" fill="none"/><path d="M196 140.2H254.8" stroke="#f08a30" stroke-width="2.3" fill="none"/>
<circle cx="225.4" cy="140.2" r="7.6" fill="#f08a30"/>
<path d="M225.4 166.25V193.75M213 166.25H237.8M213 193.75H237.8" stroke="#b2dba3" stroke-width="3.2" fill="none"/><path d="M196 180H254.8" stroke="#b2dba3" stroke-width="2.3" fill="none"/>
<circle cx="225.4" cy="180" r="7.6" fill="#b2dba3"/>
<path d="M225.4 206.05V233.55M213 206.05H237.8M213 233.55H237.8" stroke="#9368bf" stroke-width="3.2" fill="none"/><path d="M196 219.8H254.8" stroke="#9368bf" stroke-width="2.3" fill="none"/>
<circle cx="225.4" cy="219.8" r="7.6" fill="#9368bf"/>
<path d="M225.4 245.85V273.35M213 245.85H237.8M213 273.35H237.8" stroke="#3b7fbf" stroke-width="3.2" fill="none"/><path d="M196 259.6H254.8" stroke="#3b7fbf" stroke-width="2.3" fill="none"/>
<circle cx="225.4" cy="259.6" r="7.6" fill="#3b7fbf"/>
<path d="M225.4 285.65V313.15M213 285.65H237.8M213 313.15H237.8" stroke="#bdbe3c" stroke-width="3.2" fill="none"/><path d="M196 299.4H254.8" stroke="#bdbe3c" stroke-width="2.3" fill="none"/>
<circle cx="225.4" cy="299.4" r="7.6" fill="#bdbe3c"/>
<path d="M225.4 325.45V352.95M213 325.45H237.8M213 352.95H237.8" stroke="#8c5850" stroke-width="3.2" fill="none"/><path d="M196 339.2H254.8" stroke="#8c5850" stroke-width="2.3" fill="none"/>
<circle cx="225.4" cy="339.2" r="7.6" fill="#8c5850"/>
<g class="t" fill="#111" stroke="#111"><text transform="translate(275 110.5) scale(1 1.041)" font-size="27.8">Computer Science(arXiv)</text><text transform="translate(275 150.3) scale(1 1.041)" font-size="27.8">Electrical Engineering and Systems Science(arXiv)</text><text transform="translate(275 190.1) scale(1 1.041)" font-size="27.8">Statistics(arXiv)</text><text transform="translate(275 229.9) scale(1 1.041)" font-size="27.8">bioRxiv</text><text transform="translate(275 269.7) scale(1 1.041)" font-size="27.8">Physics(arXiv)</text><text transform="translate(275 309.5) scale(1 1.041)" font-size="27.8">Nature portfolio</text><text transform="translate(275 349.3) scale(1 1.041)" font-size="27.8">Mathematics(arXiv)</text></g>
</svg></body></html>
